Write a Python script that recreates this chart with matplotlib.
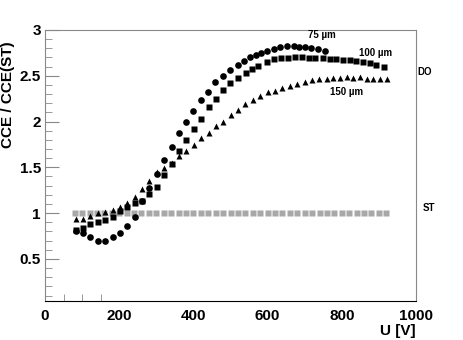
import matplotlib
matplotlib.use("Agg")
import matplotlib.pyplot as plt
from matplotlib.ticker import FixedLocator, FuncFormatter

# 75 um (circles)
u_75 = [83, 102, 122, 142, 162, 182, 201, 221, 242, 262, 281, 301, 321, 341, 361,
        380, 400, 420, 440, 459, 479, 499, 519, 537, 553, 569, 583, 598, 616, 634,
        652, 670, 685, 701, 717, 737, 755]
cce_75 = [0.80, 0.78, 0.74, 0.70, 0.70, 0.74, 0.785, 0.855, 0.96, 1.13, 1.27, 1.43,
          1.58, 1.72, 1.87, 2.00, 2.12, 2.23, 2.32, 2.43, 2.50, 2.565, 2.62, 2.66,
          2.70, 2.73, 2.75, 2.77, 2.79, 2.81, 2.82, 2.82, 2.81, 2.81, 2.80, 2.79, 2.77]

# 100 um (squares)
u_100 = [83, 102, 122, 142, 162, 182, 201, 221, 242, 262, 281, 301, 321, 342, 361,
         381, 401, 421, 441, 460, 480, 499, 521, 541, 557, 575, 598, 618, 636, 654,
         674, 694, 712, 728, 749, 767, 784, 802, 821, 839, 857, 875, 893, 914]
cce_100 = [0.82, 0.84, 0.88, 0.905, 0.93, 0.96, 1.02, 1.07, 1.115, 1.13, 1.21, 1.29,
           1.42, 1.54, 1.68, 1.80, 1.92, 2.03, 2.16, 2.25, 2.34, 2.42, 2.48, 2.53,
           2.57, 2.61, 2.65, 2.68, 2.69, 2.69, 2.70, 2.71, 2.69, 2.69, 2.69, 2.68,
           2.68, 2.675, 2.67, 2.66, 2.65, 2.64, 2.62, 2.60]

# 150 um (triangles)
u_150 = [83, 102, 122, 142, 162, 182, 201, 221, 242, 262, 281, 301, 321, 341, 361,
         381, 401, 421, 441, 460, 480, 500, 520, 540, 560, 580, 600, 620, 640, 660,
         679, 700, 719, 739, 761, 777, 795, 814, 831, 849, 867, 885, 903, 921]
cce_150 = [0.94, 0.935, 0.97, 1.00, 1.01, 1.03, 1.07, 1.11, 1.18, 1.26, 1.35, 1.45,
           1.49, 1.55, 1.62, 1.68, 1.74, 1.82, 1.88, 1.95, 2.00, 2.07, 2.13, 2.19,
           2.24, 2.28, 2.32, 2.335, 2.365, 2.39, 2.415, 2.43, 2.45, 2.46, 2.47, 2.48,
           2.48, 2.49, 2.48, 2.49, 2.47, 2.47, 2.47, 2.46]

# standard detector (gray squares)
u_st = [80, 100, 120, 140, 160, 180, 200, 220, 240, 260, 280, 300, 320, 340, 360,
        380, 400, 420, 440, 460, 480, 500, 520, 540, 560, 580, 600, 620, 640, 660,
        680, 700, 720, 740, 760, 780, 800, 820, 840, 860, 880, 900, 920]
cce_st = [1.0] * len(u_st)

fig = plt.figure(figsize=(4.63, 3.40), dpi=100)
ax = fig.add_axes([0.0972, 0.1147, 0.8013, 0.7971])

ax.plot(u_st, cce_st, ls="none", marker="s", ms=4.8, color="#a8a8a8", mec="none")
ax.plot(u_150, cce_150, ls="none", marker="^", ms=5.0, color="black", mec="none")
ax.plot(u_100, cce_100, ls="none", marker="s", ms=4.8, color="black", mec="none")
ax.plot(u_75, cce_75, ls="none", marker="o", ms=4.8, color="black", mec="none")

ax.set_xlim(0, 1000)
ax.set_ylim(0.04, 3.0)

bold = dict(fontfamily="Liberation Sans", fontweight="bold")

ax.xaxis.set_major_locator(FixedLocator([0, 200, 400, 600, 800, 1000]))
ax.xaxis.set_minor_locator(FixedLocator([50, 100, 150]))
ax.yaxis.set_major_locator(FixedLocator([0.5, 1.0, 1.5, 2.0, 2.5, 3.0]))
ax.yaxis.set_minor_locator(FixedLocator([0.1 * i for i in range(1, 30) if i % 5]))
ax.yaxis.set_major_formatter(FuncFormatter(lambda v, p: f"{v:g}"))

ax.tick_params(axis="x", which="major", length=0, pad=6)
ax.tick_params(axis="x", which="minor", length=5, direction="in", color="#888888")
ax.tick_params(axis="y", which="major", length=10, direction="in", color="#888888", pad=3)
ax.tick_params(axis="y", which="minor", length=5, direction="in", color="#888888")
for lab in ax.get_xticklabels() + ax.get_yticklabels():
    lab.set_fontfamily("Liberation Sans")
    lab.set_fontweight("bold")
    lab.set_fontsize(11)

for side in ["left", "top", "right"]:
    ax.spines[side].set_color("#888888")
ax.spines["bottom"].set_color("black")

ax.set_ylabel("CCE / CCE(ST)", fontsize=11, **bold)
ax.yaxis.set_label_coords(-0.082, 0.76)
ax.set_xlabel("U [V]", fontsize=11, labelpad=1, **bold)
ax.xaxis.set_label_coords(1.0, -0.085)
ax.xaxis.label.set_horizontalalignment("right")

ax.text(745, 2.94, "75 µm", fontsize=7, ha="center", va="center", **bold)
ax.text(890, 2.75, "100 µm", fontsize=7, ha="center", va="center", **bold)
ax.text(812, 2.32, "150 µm", fontsize=7, ha="center", va="center", **bold)
ax.text(1005, 2.54, "DO", fontsize=7, ha="left", va="center", clip_on=False, **bold)
ax.text(1018, 1.06, "ST", fontsize=7, ha="left", va="center", clip_on=False, **bold)

fig.savefig("out.png", dpi=100)
